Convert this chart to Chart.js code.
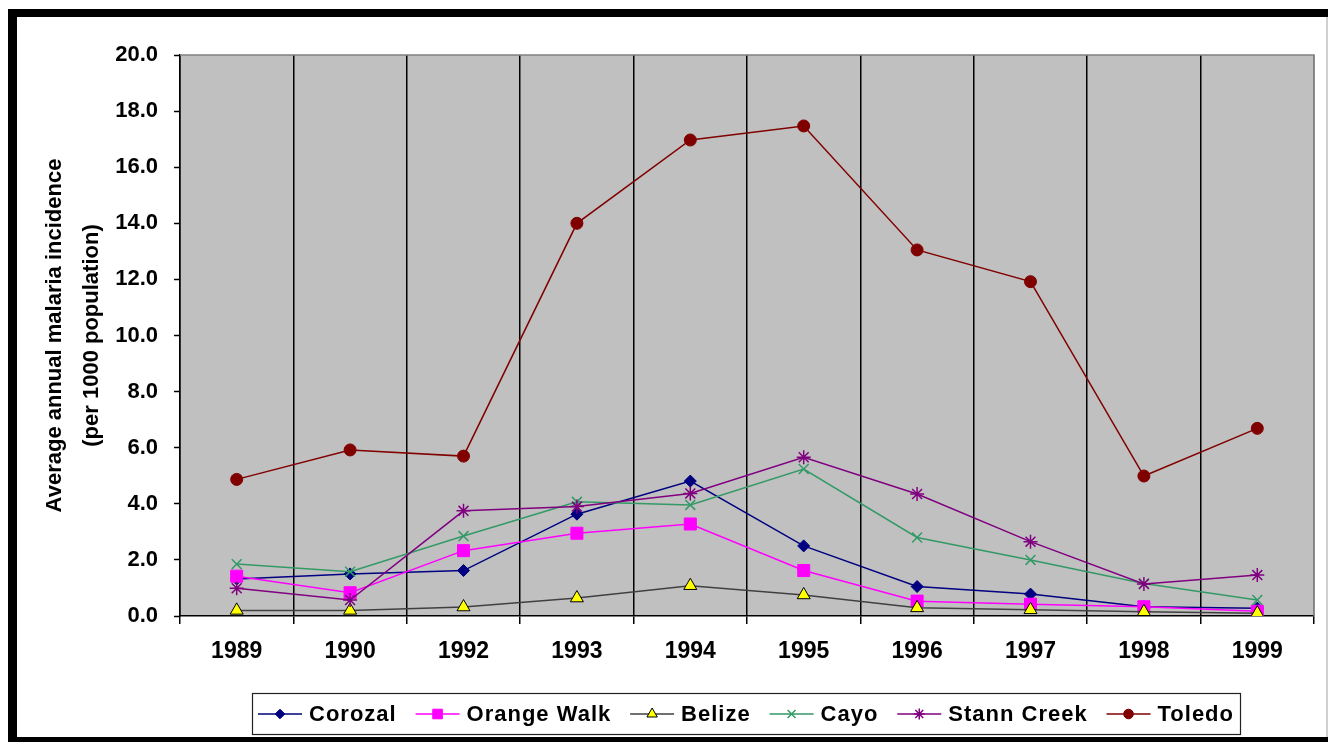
<!DOCTYPE html>
<html><head><meta charset="utf-8">
<script src="https://cdn.jsdelivr.net/npm/chart.js@4"></script>
<style>html,body{margin:0;padding:0;background:#fff;overflow:hidden}#wrap{position:absolute;left:0;top:0;width:1328px;height:742px}</style>
</head><body><div id="wrap"><canvas id="c"></canvas></div>
<script>
const categories = ['1989','1990','1992','1993','1994','1995','1996','1997','1998','1999'];
const corozal    = [1.32, 1.50, 1.62, 3.63, 4.81, 2.50, 1.05, 0.78, 0.33, 0.28];
const orangeWalk = [1.42, 0.83, 2.33, 2.95, 3.28, 1.62, 0.53, 0.42, 0.33, 0.17];
const belize     = [0.20, 0.20, 0.32, 0.64, 1.08, 0.75, 0.29, 0.22, 0.15, 0.10];
const cayo       = [1.85, 1.58, 2.85, 4.07, 3.96, 5.24, 2.80, 2.00, 1.16, 0.57];
const stannCreek = [0.99, 0.57, 3.75, 3.90, 4.37, 5.66, 4.35, 2.65, 1.14, 1.46];
const toledo     = [4.87, 5.92, 5.70, 14.00, 16.97, 17.47, 13.05, 11.92, 4.99, 6.69];
const seriesNames = ['Corozal','Orange Walk','Belize','Cayo','Stann Creek','Toledo'];
const yTickValues = [0,2,4,6,8,10,12,14,16,18,20];
const yTitle = ['Average annual malaria incidence','(per 1000 population)'];

const FONT = "'Liberation Sans', Arial, sans-serif";
const styles = [
  {line:'#000080', pStyle:'rectRot', r:6, bg:'#000080', bc:'#000080'},
  {line:'#FF00FF', pStyle:'rect', r:8.5, bg:'#FF00FF', bc:'#FF00FF'},
  {line:'#404040', pStyle:'triangle', r:7.5, bg:'#FFFF00', bc:'#000000'},
  {line:'#339966', pStyle:'crossRot', r:7, bg:'#339966', bc:'#339966'},
  {line:'#800080', pStyle:'star', r:7, bg:'#800080', bc:'#800080'},
  {line:'#800000', pStyle:'circle', r:6, bg:'#800000', bc:'#800000'}
];
const seriesData = [corozal, orangeWalk, belize, cayo, stannCreek, toledo];

const datasets = seriesNames.map((n,i)=>({
  label:n, data:seriesData[i], borderColor:styles[i].line, backgroundColor:styles[i].bg,
  borderWidth:1.5, tension:0, pointStyle:styles[i].pStyle, pointRadius:styles[i].r, pointHoverRadius:styles[i].r,
  pointBackgroundColor:styles[i].bg, pointBorderColor:styles[i].bc, pointBorderWidth:(i===3||i===4)?1.5:1,
  order: seriesNames.length - i
}));

const deco = {
  id:'deco',
  beforeDraw(chart){
    const {ctx, chartArea:a} = chart;
    ctx.save();
    ctx.fillStyle='#fff'; ctx.fillRect(0,0,chart.width,chart.height);
    ctx.fillStyle='#C0C0C0'; ctx.fillRect(a.left,a.top,a.right-a.left,a.bottom-a.top);
    ctx.restore();
  },
  beforeDatasetsDraw(chart){
    const {ctx, chartArea:a} = chart;
    ctx.save();
    ctx.strokeStyle='#808080'; ctx.lineWidth=1.5;
    ctx.beginPath(); ctx.moveTo(a.left,a.top); ctx.lineTo(a.right,a.top); ctx.lineTo(a.right,a.bottom); ctx.stroke();
    ctx.restore();
  },
  afterDraw(chart){
    const ctx = chart.ctx;
    ctx.save();
    // frame
    ctx.fillStyle='#000';
    ctx.fillRect(8,9,1320,8);
    ctx.fillRect(8,9,9,733);
    ctx.fillRect(8,737,1320,5);
    ctx.fillStyle='#d0d0d0'; ctx.fillRect(1326,17,2,720);
    // legend
    const bx=252, by=693, bw=988, bh=41;
    ctx.fillStyle='#fff'; ctx.fillRect(bx,by,bw,bh);
    ctx.strokeStyle='#222'; ctx.lineWidth=1.2; ctx.strokeRect(bx+0.5,by+0.5,bw,bh);
    ctx.font = "bold 22px " + FONT;
    try { ctx.letterSpacing = '1px'; } catch(e){}
    const sw=44, g1=7;
    const tw = chart.data.datasets.map(d=>ctx.measureText(d.label).width);
    const inner = bw-12;
    const used = tw.reduce((s,w)=>s+w,0) + chart.data.datasets.length*(sw+g1);
    const gap = (inner-used)/(chart.data.datasets.length-1);
    let x = bx+6; const cy = by+bh/2+0.5;
    chart.data.datasets.forEach((d,i)=>{
      ctx.strokeStyle=d.borderColor; ctx.lineWidth=1.5;
      ctx.beginPath(); ctx.moveTo(x,cy); ctx.lineTo(x+sw,cy); ctx.stroke();
      ctx.fillStyle=d.pointBackgroundColor; ctx.strokeStyle=d.pointBorderColor; ctx.lineWidth=d.pointBorderWidth;
      Chart.helpers.drawPoint(ctx,{pointStyle:d.pointStyle, radius:d.pointRadius*0.8, rotation:0, borderWidth:d.pointBorderWidth}, x+sw/2, cy);
      ctx.fillStyle='#000'; ctx.textBaseline='middle'; ctx.textAlign='left';
      ctx.fillText(d.label, x+sw+g1, cy+1);
      x += sw+g1+tw[i]+gap;
    });
    ctx.restore();
  }
};

new Chart(document.getElementById('c'), {
  type:'line',
  data:{labels:categories, datasets},
  plugins:[deco],
  options:{
    responsive:true, maintainAspectRatio:false, animation:false,
    layout:{padding:{left:0, top:55, right:14, bottom:0}},
    plugins:{legend:{display:false}, tooltip:{enabled:false}},
    scales:{
      x:{
        type:'category', offset:true,
        grid:{offset:true, color:(c)=>c.type==='tick'?'#000':'#808080', lineWidth:1.5, drawTicks:true, tickLength:8, tickColor:'#000', tickWidth:1.5},
        border:{color:'#000', width:1.5},
        ticks:{color:'#000', font:{family:FONT, size:23, weight:'bold'}, padding:14, maxRotation:0, autoSkip:false},
        afterFit:(s)=>{ s.height = 126; }
      },
      y:{
        min:0, max:20,
        afterBuildTicks:(s)=>{ s.ticks = yTickValues.map(v=>({value:v})); },
        ticks:{color:'#000', font:{family:FONT, size:22, weight:'bold'}, padding:16, callback:(v)=>Number(v).toFixed(1)},
        grid:{drawOnChartArea:false, drawTicks:true, tickLength:6, tickColor:'#000', tickWidth:1.5},
        border:{color:'#000', width:1.5},
        title:{display:true, text:yTitle, color:'#000', font:{family:FONT, size:22, weight:'bold', lineHeight:1.68}, padding:{top:36, bottom:0}},
        afterFit:(s)=>{ s.width = 180; }
      }
    }
  }
});
</script></body></html>
